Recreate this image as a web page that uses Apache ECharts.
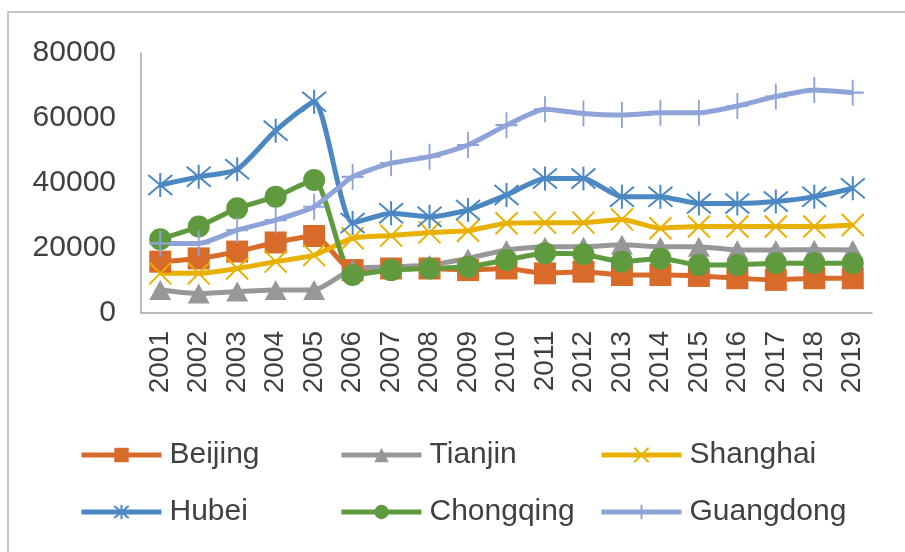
<!DOCTYPE html>
<html>
<head>
<meta charset="utf-8">
<script src="https://cdn.jsdelivr.net/npm/echarts@6/dist/echarts.min.js"></script>
<style>
  html, body { margin: 0; padding: 0; background: #fff; }
  #chart { width: 905px; height: 552px; }
</style>
</head>
<body>
<div id="chart"></div>
<script>
// Annual values by province, 2001-2019
const years = ['2001','2002','2003','2004','2005','2006','2007','2008','2009','2010',
               '2011','2012','2013','2014','2015','2016','2017','2018','2019'];
const beijing   = [15800,16800,18900,21700,23700,13200,13700,13700,13200,13700,12200,12700,11700,11700,11400,10700,10200,10700,10700];
const tianjin   = [7100,6000,6600,7100,7100,13500,14200,14800,16800,19400,20400,20400,21000,20400,20400,19400,19400,19500,19400];
const shanghai  = [12200,12200,13700,15800,17800,23000,23800,24800,25300,27600,27800,27800,28800,26100,26600,26600,26600,26600,27100];
const hubei     = [39400,41900,44200,56100,65000,27700,30700,29600,31700,36300,41400,41400,35800,35800,33700,33700,34300,35800,38400];
const chongqing = [22700,26600,32200,35800,40900,11700,13200,13700,14200,16300,18400,18100,15800,16800,14800,14800,15300,15300,15300];
const guangdong = [21400,21400,25500,28600,32700,41900,46100,48100,51700,57800,62700,61400,60900,61600,61600,63700,66600,68600,67800];
const yTicks = [0, 20000, 40000, 60000, 80000];

const FONT = '"Liberation Sans", Arial, sans-serif';
const TEXT = '#404040';

// stroke-only marker shapes
const SYM_X = 'path://M0,0L10,10M10,0L0,10';
const SYM_STAR = 'path://M0,0L10,10M10,0L0,10M5,-1L5,11';
const SYM_PLUS = 'path://M5,0L5,12M0,6L10,6';

function line(name, data, color, symbol, size, stroke) {
  return {
    name, type: 'line', data,
    smooth: 0.2,
    symbol, symbolSize: size,
    lineStyle: { color, width: 5 },
    itemStyle: stroke
      ? { color: 'rgba(0,0,0,0)', borderColor: color, borderWidth: 2 }
      : { color, borderWidth: 0 },
    emphasis: { disabled: true }
  };
}

const series = [
  line('Beijing', beijing, '#D96B2A', 'rect', 22, false),
  line('Tianjin', tianjin, '#979797', 'triangle', [22, 20], false),
  line('Shanghai', shanghai, '#E8B100', SYM_X, 22, true),
  line('Hubei', hubei, '#4B88C3', SYM_STAR, 24, true),
  line('Chongqing', chongqing, '#5F9B3E', 'circle', 22, false),
  line('Guangdong', guangdong, '#8EA3D8', SYM_PLUS, [22, 26], true)
];

function legendCol(left, names) {
  return {
    orient: 'vertical', left, top: 435,
    data: names,
    itemWidth: 80, itemHeight: 18, itemGap: 27,
    lineStyle: { width: 5 },
    textStyle: { fontFamily: FONT, fontSize: 30, color: TEXT, lineHeight: 30, padding: [0, 0, 0, 3] },
    selectedMode: false
  };
}

const chart = echarts.init(document.getElementById('chart'), null, { renderer: 'canvas' });
chart.setOption({
  animation: false,
  backgroundColor: '#fff',
  graphic: [{
    type: 'rect', shape: { x: 8, y: 12, width: 1000, height: 600 },
    style: { fill: 'none', stroke: '#B4B4B4', lineWidth: 1.5 }, silent: true
  }],
  grid: { left: 141, right: 33, top: 53, bottom: 239 },
  legend: [
    legendCol(74, ['Beijing', 'Hubei']),
    legendCol(334, ['Tianjin', 'Chongqing']),
    legendCol(594, ['Shanghai', 'Guangdong'])
  ],
  xAxis: {
    type: 'category', data: years, boundaryGap: true,
    axisLine: { lineStyle: { color: '#A6A6A6', width: 1.5 } },
    axisTick: { show: false },
    axisLabel: { rotate: 90, margin: 18, fontFamily: FONT, fontSize: 28, color: TEXT, interval: 0 }
  },
  yAxis: {
    type: 'value', min: yTicks[0], max: yTicks[yTicks.length - 1], interval: 20000,
    axisLine: { show: true, lineStyle: { color: '#A6A6A6', width: 1.5 } },
    axisTick: { show: false },
    splitLine: { show: false },
    axisLabel: { margin: 25, fontFamily: FONT, fontSize: 30, color: TEXT, formatter: v => String(v) }
  },
  series
});
</script>
</body>
</html>
